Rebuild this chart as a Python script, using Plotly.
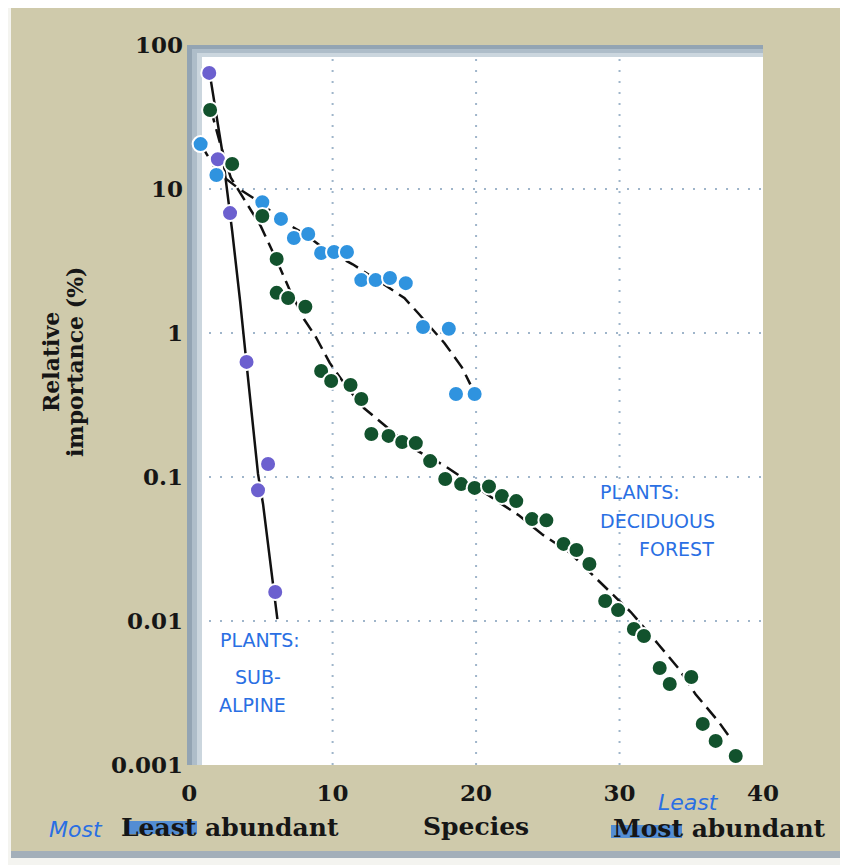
import plotly.graph_objects as go

# ---------------- data ----------------
# Plants: sub-alpine (purple)
sub_x = [1.4, 2.0, 2.85, 4.0, 5.5, 4.8, 6.0]
sub_y = [64, 16.1, 6.8, 0.63, 0.123, 0.081, 0.0159]

# Unlabelled light-blue series
blue_x = [0.8, 1.9, 5.1, 6.4, 7.3, 8.3, 9.2, 10.1, 11.0, 12.0, 13.0, 14.0,
          15.1, 16.3, 18.1, 18.6, 19.9]
blue_y = [20.5, 12.5, 8.1, 6.2, 4.57, 4.87, 3.59, 3.65, 3.65, 2.33, 2.33, 2.41,
          2.22, 1.10, 1.07, 0.377, 0.377]

# Plants: deciduous forest (dark green)
green_x = [1.46, 3.0, 5.1, 6.1, 6.1, 6.9, 8.1, 9.2, 9.9, 11.25, 12.0, 12.7,
           13.9, 14.85, 15.8, 16.8, 17.85, 18.96, 19.9, 20.9, 21.8, 22.8, 23.9,
           24.9, 26.1, 27.0, 27.9, 29.0, 29.9, 31.0, 31.7, 32.8, 33.5, 35.0,
           35.8, 36.7, 38.1]
green_y = [35.4, 14.9, 6.5, 3.27, 1.90, 1.75, 1.52, 0.544, 0.464, 0.435, 0.348,
           0.199, 0.193, 0.175, 0.172, 0.129, 0.0968, 0.0893, 0.084, 0.086,
           0.0738, 0.068, 0.051, 0.050, 0.0343, 0.0311, 0.0249, 0.01377, 0.0119,
           0.0088, 0.00787, 0.00472, 0.00365, 0.00408, 0.00193, 0.00147, 0.001155]

# hand-drawn fit curves
sub_fit_x = [1.45, 2.3, 3.0, 3.55, 4.1, 4.8, 5.15, 5.85, 6.15]
sub_fit_y = [62, 18.4, 5.1, 1.67, 0.49, 0.105, 0.065, 0.018, 0.0103]

blue_fit_x = [0.8, 2.0, 3.5, 5.0, 6.5, 8.0, 9.5, 11.4, 13.5, 15.0, 16.0, 17.8, 19.0, 19.6]
blue_fit_y = [20.5, 13, 10, 8, 6, 4.9, 3.8, 3.0, 2.2, 1.75, 1.36, 0.85, 0.58, 0.44]

green_fit_x = [1.5, 2.2, 2.9, 4.0, 5.0, 6.1, 7.0, 8.0, 8.8, 9.8, 11.0, 12.2, 13.5,
               15.5, 17.8, 20.0, 23.0, 24.6, 26.5, 28.3, 30.8, 32.7, 34.1, 35.3,
               36.9, 37.8]
green_fit_y = [36, 20, 12, 8.0, 5.5, 3.2, 2.0, 1.25, 0.95, 0.62, 0.42, 0.30, 0.235,
               0.16, 0.12, 0.085, 0.054, 0.040, 0.030, 0.020, 0.0115, 0.0069,
               0.0047, 0.0031, 0.0020, 0.0015]

x_ticks = [0, 10, 20, 30, 40]
y_ticks = [100, 10, 1, 0.1, 0.01, 0.001]
y_tick_text = ["100", "10", "1", "0.1", "0.01", "0.001"]
grid_x = [10, 20, 30]
grid_y = [10, 1, 0.1, 0.01]

# ---------------- layout geometry ----------------
# the page body has an 8px margin, so the figure starts at (8, 8) on screen
OFF = 8
W, H = 848 - OFF, 865 - OFF
L, R, T, B = 187, 763, 45, 765          # plot panel, screen pixels


def px_x(px):
    return (px - L) / (R - L)


def px_y(py):
    return (B - py) / (B - T)


BEIGE = "#cfcaab"
PURPLE = "#6c60cf"
BLUE = "#2f93df"
GREEN = "#12522d"
INK = "#2a6fe3"
TXT = "#161616"
SERIF = "DejaVu Serif"

fig = go.Figure()

line_style = dict(color="#111111", width=2.5)
fig.add_trace(go.Scatter(x=blue_fit_x, y=blue_fit_y, mode="lines",
                         line=dict(line_style, dash="14px,7px"), hoverinfo="skip"))
fig.add_trace(go.Scatter(x=green_fit_x, y=green_fit_y, mode="lines",
                         line=dict(line_style, dash="14px,7px"), hoverinfo="skip"))
fig.add_trace(go.Scatter(x=sub_fit_x, y=sub_fit_y, mode="lines",
                         line=dict(line_style), hoverinfo="skip"))

mk_line = dict(color="white", width=2)
fig.add_trace(go.Scatter(x=blue_x, y=blue_y, mode="markers", name="blue",
                         marker=dict(size=16, color=BLUE, line=mk_line)))
fig.add_trace(go.Scatter(x=sub_x, y=sub_y, mode="markers", name="Plants: sub-alpine",
                         marker=dict(size=16, color=PURPLE, line=mk_line)))
fig.add_trace(go.Scatter(x=green_x, y=green_y, mode="markers", name="Plants: deciduous forest",
                         marker=dict(size=16, color=GREEN, line=mk_line)))

# dotted grid
for gx in grid_x:
    fig.add_vline(x=gx, line=dict(color="#9fb5ca", width=2, dash="2px,9px"), layer="below")
for gy in grid_y:
    fig.add_hline(y=gy, line=dict(color="#9fb5ca", width=2, dash="2px,9px"), layer="below")

shapes = []
# frame on left and top of the plot panel (gradient), drawn after the grid
cols = ["#93a4b3", "#aebdc9", "#cbd6de"]
for i, c in enumerate(cols):
    shapes.append(dict(type="rect", xref="x domain", yref="y domain",
                       x0=5 * i / (R - L), x1=5 * (i + 1) / (R - L), y0=0, y1=1,
                       fillcolor=c, line_width=0, layer="below"))
for i, c in enumerate(cols):
    shapes.append(dict(type="rect", xref="x domain", yref="y domain",
                       x0=5 * i / (R - L) if i else 0, x1=1,
                       y0=1 - 4 * (i + 1) / (B - T), y1=1 - 4 * i / (B - T),
                       fillcolor=c, line_width=0, layer="below"))
# scan edges
shapes.append(dict(type="rect", xref="paper", yref="paper", x0=px_x(OFF), x1=px_x(11),
                   y0=px_y(865), y1=px_y(OFF), fillcolor="#f4f4f0", line_width=0, layer="below"))
shapes.append(dict(type="rect", xref="paper", yref="paper", x0=px_x(11), x1=px_x(848),
                   y0=px_y(858), y1=px_y(851), fillcolor="#a3afb9", line_width=0, layer="below"))
shapes.append(dict(type="rect", xref="paper", yref="paper", x0=px_x(OFF), x1=px_x(848),
                   y0=px_y(865), y1=px_y(858), fillcolor="#f4f4f0", line_width=0, layer="below"))
# blue marker strokes over "Least" and "Most"
shapes.append(dict(type="rect", xref="paper", yref="paper", x0=px_x(124), x1=px_x(197),
                   y0=px_y(834), y1=px_y(821), fillcolor="#2a78e0", opacity=0.75,
                   line_width=0, layer="above"))
shapes.append(dict(type="rect", xref="paper", yref="paper", x0=px_x(611), x1=px_x(682),
                   y0=px_y(838), y1=px_y(825), fillcolor="#2a78e0", opacity=0.75,
                   line_width=0, layer="above"))
for s in shapes:
    fig.add_shape(**s)

ann = []


def text(px, py, s, size, color=TXT, bold=True, family=SERIF, xanchor="center",
         angle=0, italic=False):
    ann.append(dict(x=px_x(px), y=px_y(py), xref="paper", yref="paper", text=s,
                    showarrow=False, xanchor=xanchor, yanchor="middle", textangle=angle,
                    font=dict(family=family, size=size, color=color,
                              weight="bold" if bold else "normal",
                              style="italic" if italic else "normal")))


text(51, 362, "Relative", 22, angle=-90)
text(75, 362, "importance (%)", 22, angle=-90)
text(230, 828, "Least abundant", 25)
text(476, 826, "Species", 25)
text(719, 829, "Most abundant", 25)
text(76, 830, "Most", 22, color=INK, bold=False, family="DejaVu Sans", italic=True)
text(688, 802, "Least", 22, color=INK, bold=False, family="DejaVu Sans", italic=True)

HAND = "DejaVu Sans"
text(218, 640, "PLANTS:", 19, color=INK, bold=False, family=HAND, xanchor="left")
text(233, 677, "SUB-", 19, color=INK, bold=False, family=HAND, xanchor="left")
text(217, 705, "ALPINE", 19, color=INK, bold=False, family=HAND, xanchor="left")
text(598, 492, "PLANTS:", 19, color=INK, bold=False, family=HAND, xanchor="left")
text(598, 521, "DECIDUOUS", 19, color=INK, bold=False, family=HAND, xanchor="left")
text(637, 549, "FOREST", 19, color=INK, bold=False, family=HAND, xanchor="left")

tick_font = dict(family=SERIF, size=23, color=TXT, weight="bold")
fig.update_layout(
    width=W, height=H, autosize=False,
    margin=dict(l=L - OFF, r=W - (R - OFF), t=T - OFF, b=H - (B - OFF), pad=0),
    paper_bgcolor=BEIGE, plot_bgcolor="white",
    showlegend=False,
    annotations=ann,
    xaxis=dict(range=[-0.15, 40], tickmode="array", tickvals=x_ticks,
               showgrid=False, zeroline=False, showline=False, ticks="",
               tickfont=tick_font, ticklabelstandoff=12, fixedrange=True),
    yaxis=dict(type="log", range=[-3, 2], tickmode="array", tickvals=y_ticks,
               ticktext=y_tick_text, showgrid=False, zeroline=False, showline=False,
               ticks="", tickfont=tick_font, ticklabelstandoff=3, fixedrange=True),
)

fig.write_html("out.html")
